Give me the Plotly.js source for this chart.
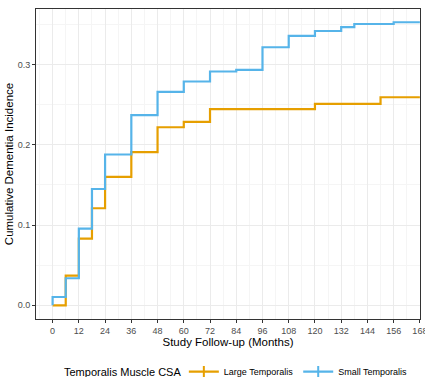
<!DOCTYPE html>
<html>
<head>
<meta charset="utf-8">
<script src="https://cdn.plot.ly/plotly-3.0.1.min.js"></script>
<style>html,body{margin:0;padding:0;background:#fff;}#chart{width:425px;height:377px;}</style>
</head>
<body>
<div id="chart"></div>
<script>
// Months of follow-up and cumulative incidence (step function)
const largeMonths = [0, 6, 12, 18, 24, 36, 48, 60, 72, 120, 150, 168];
const largeIncidence = [0, 0.037, 0.083, 0.121, 0.160, 0.191, 0.222, 0.2286, 0.2445, 0.251, 0.2594, 0.2594];
const smallMonths = [0, 0, 6, 12, 18, 24, 36, 48, 60, 72, 84, 96, 108, 120, 132, 138, 156, 168];
const smallIncidence = [0, 0.0103, 0.0337, 0.0955, 0.145, 0.188, 0.237, 0.266, 0.279, 0.2915, 0.2934, 0.3217, 0.336, 0.342, 0.3467, 0.3507, 0.3529, 0.3529];
const seriesNames = ["Large Temporalis", "Small Temporalis"];
const seriesColors = ["#E69F00", "#56B4E9"];
const legendTitle = "Temporalis Muscle CSA";
const xTicks = [0, 12, 24, 36, 48, 60, 72, 84, 96, 108, 120, 132, 144, 156, 168];
const yTicks = [0.0, 0.1, 0.2, 0.3];
const yTickLabels = ["0.0", "0.1", "0.2", "0.3"];

const traces = [
  {x: largeMonths, y: largeIncidence, type: "scatter", mode: "lines", line: {shape: "hv", color: seriesColors[0], width: 2.2}, showlegend: false, hoverinfo: "skip"},
  {x: smallMonths, y: smallIncidence, type: "scatter", mode: "lines", line: {shape: "hv", color: seriesColors[1], width: 2.2}, showlegend: false, hoverinfo: "skip"},
  {x: [null], y: [null], type: "scatter", mode: "lines+markers", name: seriesNames[0], line: {color: seriesColors[0], width: 2.2}, marker: {symbol: "line-ns", size: 8, line: {color: seriesColors[0], width: 2}}},
  {x: [null], y: [null], type: "scatter", mode: "lines+markers", name: seriesNames[1], line: {color: seriesColors[1], width: 2.2}, marker: {symbol: "line-ns", size: 8, line: {color: seriesColors[1], width: 2}}}
];

const layout = {
  width: 425, height: 377,
  margin: {l: 36, r: 4.5, t: 9, b: 58, autoexpand: false},
  paper_bgcolor: "#fff", plot_bgcolor: "#fff",
  font: {family: "Liberation Sans, Arial, sans-serif", color: "#000"},
  showlegend: true,
  xaxis: {
    range: [-7.6, 168.05],
    tickmode: "array", tickvals: xTicks, ticktext: xTicks.map(String),
    ticks: "outside", ticklen: 3, tickwidth: 1, tickcolor: "#333",
    tickfont: {size: 9, color: "#4d4d4d"},
    ticklabeloverflow: "allow",
    showgrid: true, gridcolor: "#ebebeb", gridwidth: 1,
    minor: {dtick: 6, tick0: 0, showgrid: true, gridcolor: "#f5f5f5", gridwidth: 1},
    zeroline: false, automargin: false,
    showline: true, linecolor: "#333", linewidth: 1, mirror: true,
    title: {text: "Study Follow-up (Months)", font: {size: 11.5, color: "#000"}, standoff: 3}
  },
  yaxis: {
    range: [-0.0171, 0.3694],
    tickmode: "array", tickvals: yTicks, ticktext: yTickLabels,
    ticks: "outside", ticklen: 3, tickwidth: 1, tickcolor: "#333",
    tickfont: {size: 9, color: "#4d4d4d"},
    showgrid: true, gridcolor: "#ebebeb", gridwidth: 1,
    minor: {dtick: 0.05, tick0: 0, showgrid: true, gridcolor: "#f5f5f5", gridwidth: 1},
    zeroline: false, automargin: false,
    showline: true, linecolor: "#333", linewidth: 1, mirror: true,
    title: {text: "Cumulative Dementia Incidence", font: {size: 11.5, color: "#000"}, standoff: 1}
  },
  legend: {
    orientation: "h", x: 0.385, xanchor: "left", y: -0.17, yanchor: "middle",
    font: {size: 9, color: "#000"},
    itemwidth: 30, tracegroupgap: 0, bgcolor: "rgba(0,0,0,0)"
  },
  annotations: [{
    text: legendTitle, xref: "paper", yref: "paper", x: 0.382, y: -0.17,
    xanchor: "right", yanchor: "middle", showarrow: false,
    font: {size: 11, color: "#000"}
  }]
};

Plotly.newPlot("chart", traces, layout, {displayModeBar: false, staticPlot: true});
</script>
</body>
</html>
